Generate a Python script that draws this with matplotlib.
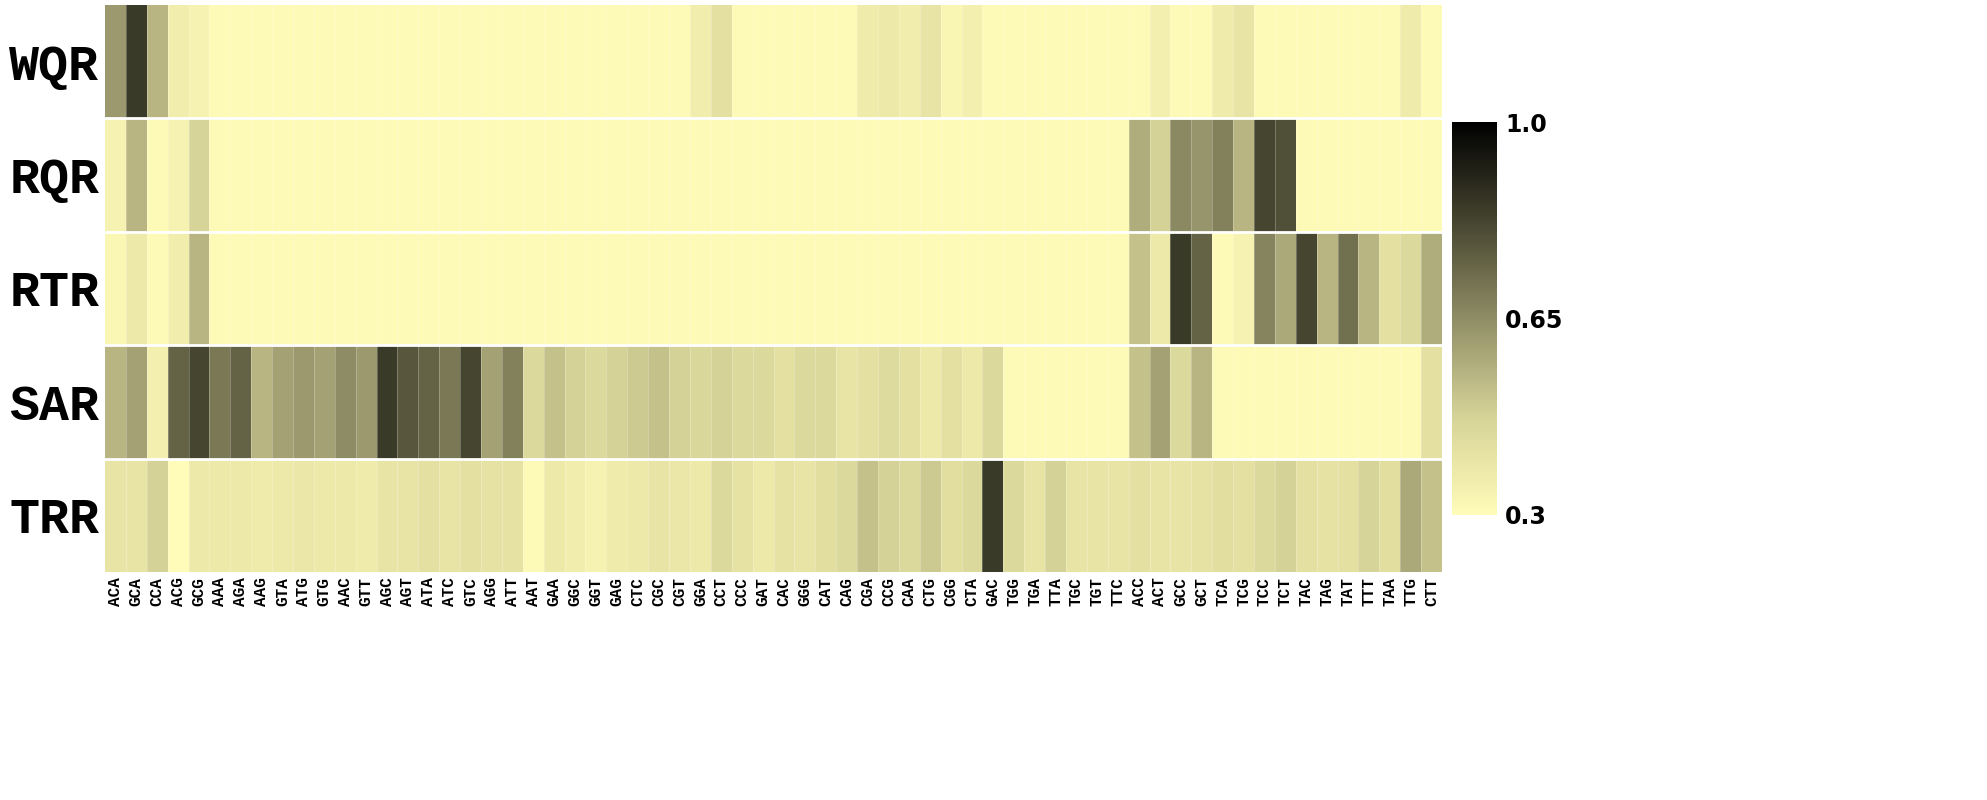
import numpy as np
import matplotlib
matplotlib.use("Agg")
import matplotlib.pyplot as plt
from matplotlib.colors import LinearSegmentedColormap

codons = ["ACA", "GCA", "CCA", "ACG", "GCG", "AAA", "AGA", "AAG", "GTA", "ATG", "GTG", "AAC",
          "GTT", "AGC", "AGT", "ATA", "ATC", "GTC", "AGG", "ATT", "AAT", "GAA", "GGC", "GGT",
          "GAG", "CTC", "CGC", "CGT", "GGA", "CCT", "CCC", "GAT", "CAC", "GGG", "CAT", "CAG",
          "CGA", "CCG", "CAA", "CTG", "CGG", "CTA", "GAC", "TGG", "TGA", "TTA", "TGC", "TGT",
          "TTC", "ACC", "ACT", "GCC", "GCT", "TCA", "TCG", "TCC", "TCT", "TAC", "TAG", "TAT",
          "TTT", "TAA", "TTG", "CTT"]
rows = ["WQR", "RQR", "RTR", "SAR", "TRR"]

wqr = [0.62, 0.85, 0.55, 0.36, 0.34] + [0.31] * 23 + [0.36, 0.42] + [0.31] * 6 + \
      [0.37, 0.38, 0.36, 0.40, 0.33, 0.35] + [0.31] * 8 + [0.35, 0.31, 0.31, 0.37, 0.40] + \
      [0.31] * 7 + [0.37, 0.31]
rqr = [0.34, 0.55, 0.31, 0.34, 0.47] + [0.31] * 44 + \
      [0.57, 0.48, 0.66, 0.63, 0.68, 0.55, 0.82, 0.80] + [0.31] * 7
rtr = [0.32, 0.38, 0.31, 0.36, 0.55] + [0.31] * 44 + \
      [0.52, 0.38, 0.85, 0.75, 0.31, 0.34, 0.67, 0.58, 0.82, 0.55, 0.72, 0.55, 0.42, 0.45, 0.57]
sar = [0.55, 0.60, 0.35, 0.75, 0.82, 0.70, 0.75, 0.55, 0.60, 0.62, 0.60, 0.65, 0.62, 0.85,
       0.78, 0.75, 0.70, 0.82, 0.60, 0.68, 0.45, 0.52, 0.48, 0.45, 0.48, 0.50, 0.52, 0.48,
       0.46, 0.48, 0.45, 0.45, 0.42, 0.45, 0.45, 0.40, 0.42, 0.44, 0.42, 0.38, 0.42, 0.38,
       0.45] + [0.31] * 6 + [0.52, 0.60, 0.45, 0.55] + [0.31] * 10 + [0.42]
trr = [0.40, 0.40, 0.48, 0.30, 0.38, 0.38, 0.38, 0.37, 0.38, 0.39, 0.38, 0.38, 0.37, 0.40,
       0.40, 0.42, 0.40, 0.42, 0.41, 0.41, 0.31, 0.38, 0.36, 0.34, 0.37, 0.38, 0.40, 0.39,
       0.38, 0.45, 0.41, 0.38, 0.41, 0.40, 0.43, 0.45, 0.52, 0.48, 0.45, 0.50, 0.43, 0.45,
       0.85, 0.45, 0.40, 0.48, 0.40, 0.40, 0.40, 0.42, 0.40, 0.40, 0.41, 0.43, 0.42, 0.45,
       0.48, 0.42, 0.41, 0.42, 0.47, 0.43, 0.58, 0.52]

data = np.array([wqr, rqr, rtr, sar, trr])

cmap = LinearSegmentedColormap.from_list(
    "olive", ["#fffbb8", "#d6d398", "#8f8d65", "#45442f", "#000000"])

fig = plt.figure(figsize=(19.87, 8), dpi=100)
ax = fig.add_axes([105 / 1987, 1 - 572 / 800, (1442 - 105) / 1987, 567 / 800])
mesh = ax.pcolormesh(data, cmap=cmap, vmin=0.3, vmax=1.0)
ax.invert_yaxis()
# faint separators between codon columns, solid white between rows
for x in range(1, len(codons)):
    ax.axvline(x, color="white", lw=0.5, alpha=0.35)
for y in range(1, len(rows)):
    ax.axhline(y, color="white", lw=2.0)

ax.set_xticks(np.arange(len(codons)) + 0.5)
ax.set_xticklabels(codons, rotation=90, fontfamily="Liberation Mono",
                   fontweight="bold", fontsize=11.5)
ax.set_yticks(np.arange(len(rows)) + 0.5)
ax.set_yticklabels(rows, fontfamily="Liberation Mono", fontweight="bold", fontsize=36)
ax.tick_params(length=0, pad=4)
for s in ax.spines.values():
    s.set_visible(False)

cax = fig.add_axes([1452 / 1987, 1 - 515 / 800, 45 / 1987, 393 / 800])
cb = fig.colorbar(mesh, cax=cax, ticks=[0.3, 0.65, 1.0])
cb.ax.set_yticklabels(["0.3", "0.65", "1.0"], fontsize=17, fontweight="bold")
cb.outline.set_visible(False)
cb.ax.tick_params(length=0, pad=6)

fig.savefig("out.png", dpi=100)
